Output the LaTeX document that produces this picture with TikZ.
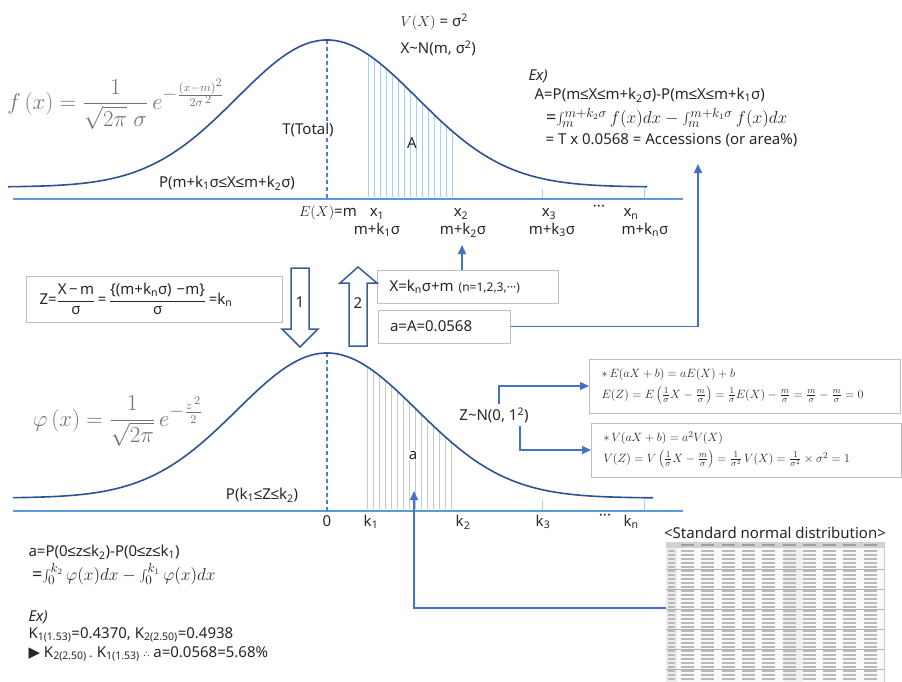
\documentclass[tikz,border=0pt]{standalone}
\usepackage{fontspec}
\setmainfont{Noto Sans}
\newfontfamily\symfont{DejaVu Sans}
\newfontfamily\lefont{Liberation Sans}
\newcommand{\lesym}{{\lefont ≤}}
\usetikzlibrary{positioning,arrows.meta,calc}
\definecolor{curveblue}{RGB}{47,82,143}
\definecolor{axisblue}{RGB}{91,155,213}
\definecolor{hatchblue}{RGB}{180,205,235}
\definecolor{linkblue}{RGB}{68,114,196}
\definecolor{boxgray}{RGB}{191,191,191}
\definecolor{hollowblue}{RGB}{58,95,150}
\definecolor{textdark}{RGB}{38,38,38}
\tikzset{
  curveline/.style={line width=1.6pt, curveblue},
  axisline/.style={line width=1.2pt, axisblue},
  hatchline/.style={line width=0.7pt, hatchblue},
  meanline/.style={line width=1.2pt, axisblue!80!blue, dash pattern=on 4pt off 3pt},
  linkarrow/.style={-{Triangle[length=9pt,width=8pt]}, line width=1.2pt, linkblue},
  hollowarrow/.style={line width=1.5pt, draw=hollowblue, fill=white},
  notebox/.style={draw=boxgray, line width=1pt, align=left, inner xsep=12pt, inner ysep=0pt},
  tablebox/.style={draw=gray!40, line width=0.4pt, fill=gray!4},
  tabbar/.style={line width=1.1pt, gray!55},
  formula/.style={text=black!55, font=\fontsize{19}{22}\selectfont, scale=1.32, transform shape},
  bigmath/.style={scale=1.2, transform shape},
  declare function={
    topg(\t)=187-147*exp(-0.5*((\t-327)/90)*((\t-327)/90));
    botg(\t)=498-145*exp(-0.5*((\t-327)/90)*((\t-327)/90));
  }
}

\begin{document}
\begin{tikzpicture}[x=1pt, y=-1pt, every node/.style={font=\fontsize{15}{18}\selectfont, text=textdark}]
  \useasboundingbox (0,0) rectangle (902,682);

  % upper curve X~N(m, sigma^2)
  \foreach \hx in {368,374,...,455}
    \draw[hatchline] (\hx,197) -- (\hx,{topg(\hx)});
  \draw[hatchline] (542,189) -- (542,199);
  \draw[hatchline] (644,189) -- (644,199);
  \draw[axisline] (13,199) -- (683,199);
  \draw[meanline] (327,40) -- (327,199);
  \draw[curveline] plot[domain=8:647, samples=140, smooth] (\x,{topg(\x)});

  \node[formula] (fx) at (116,104) {$\displaystyle f\,(x)=\frac{1}{\sqrt{2\pi}\;\sigma}\,e^{-\frac{(x-m)^2}{2\sigma^{\,2}}}$};
  \node[anchor=west] (vx) at (397,22) {\(V(X)\) = σ\textsuperscript{2}};
  \node[anchor=west] (xn) at (397,48) {X\textasciitilde N(m, σ\textsuperscript{2})};
  \node[fill=white, inner sep=1pt] (total) at (308,130) {T(Total)};
  \node (alabA) at (412,143) {A};
  \node (ptop) at (227,183) {P(m+k\textsubscript{1}σ\lesym X\lesym m+k\textsubscript{2}σ)};

  \node (ex) at (328,213) {\(E(X)\)=\textbf{m}};
  \node (x1) at (377,214) {x\textsubscript{1}};
  \node (mk1) at (377,230) {m+k\textsubscript{1}σ};
  \node (x2) at (461,214) {x\textsubscript{2}};
  \node (mk2) at (463,230) {m+k\textsubscript{2}σ};
  \node (x3) at (549,214) {x\textsubscript{3}};
  \node (mk3) at (552,230) {m+k\textsubscript{3}σ};
  \node (xdots) at (599,208) {···};
  \node (xnn) at (631,214) {x\textsubscript{n}};
  \node (mkn) at (645,230) {m+k\textsubscript{n}σ};

  % example for A
  \node[anchor=west] (exhead) at (525,76) {\textit{Ex)}};
  \node[anchor=west] (exA) at (531,95) {A=P(m\lesym X\lesym m+k\textsubscript{2}σ)-P(m\lesym X\lesym m+k\textsubscript{1}σ)};
  \node[anchor=west, bigmath] (exI) at (542,118) {=\(\int_m^{m+k_2\sigma}f(x)dx-\int_m^{m+k_1\sigma}f(x)dx\)};
  \node[anchor=west] (exT) at (542,140) {= T x 0.0568 = Accessions (or area\%)};

  % standardisation boxes
  \node[notebox, text width=230pt, minimum height=46pt, inner xsep=13pt] (zbox) at (154.5,299)
    {Z=$\displaystyle\frac{\mbox{X\,−\,m}}{\mbox{σ}}$\,=\,$\displaystyle\frac{\mbox{\{(m+k\textsubscript{n}σ)\,\,−m\}}}{\mbox{σ}}$\,=k\textsubscript{n}};
  \node[notebox, text width=157pt, minimum height=33pt] (xbox) at (468,286.5)
    {X=k\textsubscript{n}σ+m {\fontsize{12}{14}\selectfont(n=1,2,3,···)}};
  \node[notebox, text width=108pt, minimum height=33pt] (abox) at (444,326.5) {a=A=0.0568};

  \draw[hollowarrow] (291,268) -- (309,268) -- (309,329) -- (318,329) -- (300,347) -- (282,329) -- (291,329) -- cycle;
  \draw[hollowarrow] (349,346) -- (367,346) -- (367,283) -- (377,283) -- (358,267) -- (340,283) -- (349,283) -- cycle;
  \node (one) at (300,302) {1};
  \node (two) at (358,303) {2};

  \coordinate (xtip) at (462,245);
  \coordinate (extip) at (698,164);
  \draw[linkarrow] (xbox.north -| xtip) -- (xtip);
  \draw[linkarrow] (abox.east) -| (extip);

  % lower curve Z~N(0, 1)
  \foreach \hx in {367,373,...,455}
    \draw[hatchline] (\hx,509) -- (\hx,{botg(\hx)});
  \draw[hatchline] (542,500) -- (542,511);
  \draw[hatchline] (644,500) -- (644,511);
  \draw[axisline] (13,511) -- (683,511);
  \draw[meanline] (327,353) -- (327,511);
  \draw[curveline] plot[domain=13:653, samples=140, smooth] (\x,{botg(\x)});

  \node[formula] (phix) at (118,421) {$\displaystyle \varphi\,(x)=\frac{1}{\sqrt{2\pi}}\,e^{-\frac{z^{\,2}}{2}}$};
  \node[fill=white, inner sep=1pt] (alab) at (413,455) {a};
  \node (pbot) at (262,495) {P(k\textsubscript{1}\lesym Z\lesym k\textsubscript{2})};
  \node (zero) at (327,521) {0};
  \node (k1) at (371,522) {k\textsubscript{1}};
  \node (k2) at (463,522) {k\textsubscript{2}};
  \node (k3) at (543,522) {k\textsubscript{3}};
  \node (kdots) at (605,517) {···};
  \node (kn) at (631,522) {k\textsubscript{n}};

  \node (znorm) at (494,415) {Z\textasciitilde N(0, 1\textsuperscript{2})};
  \node[notebox, text width=287pt, minimum height=54pt, font=\fontsize{13}{19}\selectfont] (ebox) at (745,386)
    {\(\ast\, E(aX+b)=aE(X)+b\)\\[2pt]
     \(E(Z)=E\left(\frac{1}{\sigma}X-\frac{m}{\sigma}\right)=\frac{1}{\sigma}E(X)-\frac{m}{\sigma}=\frac{m}{\sigma}-\frac{m}{\sigma}=0\)};
  \node[notebox, text width=286pt, minimum height=54pt, font=\fontsize{13}{19}\selectfont] (vbox) at (746.5,450)
    {\(\ast\, V(aX+b)=a^2V(X)\)\\[2pt]
     \(V(Z)=V\left(\frac{1}{\sigma}X-\frac{m}{\sigma}\right)=\frac{1}{\sigma^2}\,V(X)=\frac{1}{\sigma^2}\times\sigma^2=1\)};
  \draw[linkarrow] ([xshift=5pt]znorm.north) |- (ebox.west);
  \draw[linkarrow] ([xshift=26pt]znorm.south) |- (vbox.west);

  % example for a
  \node[anchor=west] (aP) at (25,552) {a=P(0\lesym z\lesym k\textsubscript{2})-P(0\lesym z\lesym k\textsubscript{1})};
  \node[anchor=west, bigmath] (aI) at (28,574) {=\(\int_0^{k_2}\varphi(x)dx-\int_0^{k_1}\varphi(x)dx\)};
  \node[anchor=west] (exhead2) at (25,617) {\textit{Ex)}};
  \node[anchor=west] (kval) at (25,635) {K\textsubscript{1(1.53)}=0.4370, K\textsubscript{2(2.50)}=0.4938};
  \node[anchor=west] (kdiff) at (25,654) {{\symfont ▶} K\textsubscript{2(2.50) -} K\textsubscript{1(1.53)} {\symfont\fontsize{9}{10}\selectfont ∴} a=0.0568=5.68\%};

  % standard normal table
  \node (tabtitle) at (775,533) {\textless Standard normal distribution\textgreater};
  \node[tablebox, anchor=north west, minimum width=218pt, minimum height=140pt, inner sep=0pt] (stdtab) at (666,542) {};
  \fill[gray!35] (666,542) rectangle (884,548);
  \fill[gray!15] (666,548) rectangle (677,682);
  \fill[gray!12] (784,548) rectangle (803,682);
  \foreach \r in {0,...,32} {
    \draw[tabbar] (668,{551+4*\r}) -- (675,{551+4*\r});
    \foreach \c in {0,...,9}
      \draw[tabbar] ({681+20.3*\c},{551+4*\r}) -- ({694+20.3*\c},{551+4*\r});
  }
  \foreach \c in {0,...,9}
    \draw[tabbar, gray!75] ({681+20.3*\c},545) -- ({694+20.3*\c},545);
  \foreach \r in {5,10,...,30}
    \draw[gray!60, line width=0.5pt] (666,{549+4*\r}) -- (884,{549+4*\r});

  \coordinate (tabhook) at (666,608);
  \coordinate (atip) at (414,491);
  \draw[linkarrow] (tabhook) -| (atip);
\end{tikzpicture}
\end{document}
